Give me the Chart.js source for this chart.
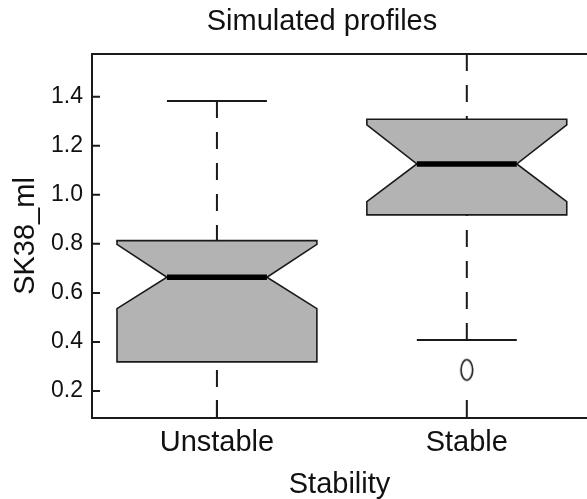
<!DOCTYPE html>
<html>
<head>
<meta charset="utf-8">
<script src="https://cdn.jsdelivr.net/npm/chart.js@4.4.0/dist/chart.umd.min.js"></script>
<style>
  html, body { margin: 0; padding: 0; background: #fff; }
</style>
</head>
<body>
<canvas id="chart" width="587" height="499"></canvas>
<script>
// Data
var categories = ['Unstable', 'Stable'];
var whisker_low = [0.09, 0.408];
var q1 = [0.319, 0.918];
var notch_low = [0.536, 0.972];
var medians = [0.664, 1.126];
var notch_high = [0.798, 1.285];
var q3 = [0.813, 1.308];
var whisker_high = [1.382, 1.574];
var outliers = [[], [0.286]];
var y_ticks = [0.2, 0.4, 0.6, 0.8, 1.0, 1.2, 1.4];
var y_min = 0.09;
var y_max = 1.574;

var line_color = '#1a1a1a';
var box_fill = '#b3b3b3';

Chart.defaults.font.family = '"Liberation Sans", Arial, sans-serif';
Chart.defaults.color = '#111';

// open ellipse used for the outlier points
function make_ellipse(){
    var c = document.createElement('canvas');
    c.width = 16;
    c.height = 25;
    var g = c.getContext('2d');
    g.strokeStyle = '#111';
    g.lineWidth = 1.6;
    g.beginPath();
    g.ellipse(8, 12.5, 5.8, 10.2, 0, 0, Math.PI * 2);
    g.stroke();
    return c;
}

var outlier_points = [];
for (let i = 0; i < outliers.length; i++){
    for (let j = 0; j < outliers[i].length; j++){
        outlier_points.push({x: i + 1, y: outliers[i][j]});
    }
}

var boxplot_plugin = {
    id: 'boxplot',
    beforeDatasetsDraw: function(chart){
        var ctx = chart.ctx;
        var xs = chart.scales.x;
        var ys = chart.scales.y;
        var area = chart.chartArea;
        var hw = 0.4;   // half box width
        var nw = 0.2;   // half notch width / cap width

        ctx.save();
        ctx.beginPath();
        ctx.rect(area.left, area.top - 1, area.right - area.left, area.bottom - area.top + 2);
        ctx.clip();

        for (let i = 0; i < categories.length; i++){
            let x = i + 1;
            let px = function(v){ return xs.getPixelForValue(v); };
            let py = function(v){ return ys.getPixelForValue(v); };

            // notched box
            ctx.beginPath();
            ctx.moveTo(px(x - hw), py(q1[i]));
            ctx.lineTo(px(x - hw), py(notch_low[i]));
            ctx.lineTo(px(x - nw), py(medians[i]));
            ctx.lineTo(px(x - hw), py(notch_high[i]));
            ctx.lineTo(px(x - hw), py(q3[i]));
            ctx.lineTo(px(x + hw), py(q3[i]));
            ctx.lineTo(px(x + hw), py(notch_high[i]));
            ctx.lineTo(px(x + nw), py(medians[i]));
            ctx.lineTo(px(x + hw), py(notch_low[i]));
            ctx.lineTo(px(x + hw), py(q1[i]));
            ctx.closePath();
            ctx.fillStyle = box_fill;
            ctx.fill();
            ctx.lineWidth = 1.6;
            ctx.strokeStyle = line_color;
            ctx.lineJoin = 'miter';
            ctx.stroke();

            // median
            ctx.beginPath();
            ctx.moveTo(px(x - nw), py(medians[i]));
            ctx.lineTo(px(x + nw), py(medians[i]));
            ctx.lineWidth = 5.5;
            ctx.strokeStyle = '#000';
            ctx.stroke();

            // whiskers, drawn from the ends toward the box
            ctx.lineWidth = 2;
            ctx.strokeStyle = line_color;
            ctx.setLineDash([17, 14]);
            ctx.beginPath();
            ctx.moveTo(px(x), py(whisker_low[i]));
            ctx.lineTo(px(x), py(q1[i]));
            ctx.moveTo(px(x), py(whisker_high[i]));
            ctx.lineTo(px(x), py(q3[i]));
            ctx.stroke();
            ctx.setLineDash([]);

            // caps
            ctx.beginPath();
            ctx.moveTo(px(x - nw), py(whisker_low[i]));
            ctx.lineTo(px(x + nw), py(whisker_low[i]));
            ctx.moveTo(px(x - nw), py(whisker_high[i]));
            ctx.lineTo(px(x + nw), py(whisker_high[i]));
            ctx.stroke();
        }
        ctx.restore();
    },
    afterDraw: function(chart){
        var ctx = chart.ctx;
        var area = chart.chartArea;
        var xs = chart.scales.x;
        var ys = chart.scales.y;

        ctx.save();
        ctx.strokeStyle = line_color;
        ctx.lineWidth = 2;

        // frame (right side falls outside the picture)
        ctx.beginPath();
        ctx.moveTo(area.right + 2, area.top);
        ctx.lineTo(area.left, area.top);
        ctx.lineTo(area.left, area.bottom);
        ctx.lineTo(area.right + 2, area.bottom);
        ctx.stroke();

        // inward ticks
        ctx.beginPath();
        for (let i = 0; i < y_ticks.length; i++){
            let y = ys.getPixelForValue(y_ticks[i]);
            ctx.moveTo(area.left, y);
            ctx.lineTo(area.left + 8, y);
        }
        for (let i = 0; i < categories.length; i++){
            let x = xs.getPixelForValue(i + 1);
            ctx.moveTo(x, area.bottom);
            ctx.lineTo(x, area.bottom - 18);
        }
        ctx.stroke();

        // main title
        ctx.fillStyle = '#111';
        ctx.font = '29px "Liberation Sans", Arial, sans-serif';
        ctx.textAlign = 'center';
        ctx.textBaseline = 'middle';
        ctx.fillText('Simulated profiles', 322, 22);
        ctx.restore();
    }
};

var ctx = document.getElementById('chart').getContext('2d');

var chart = new Chart(ctx, {
    type: 'scatter',
    data: {
        datasets: [{
            label: 'outliers',
            data: outlier_points,
            pointStyle: make_ellipse(),
            pointRadius: 10
        }]
    },
    options: {
        responsive: false,
        animation: false,
        layout: { autoPadding: false, padding: { top: 54, left: 0, right: 0, bottom: 0 } },
        plugins: {
            legend: { display: false },
            tooltip: { enabled: false },
            title: { display: false }
        },
        scales: {
            x: {
                type: 'linear',
                min: 0.5,
                max: 2.481,
                grid: { display: false, drawTicks: false },
                border: { display: false },
                afterBuildTicks: function(scale){
                    scale.ticks = categories.map(function(c, i){ return {value: i + 1}; });
                },
                afterFit: function(scale){ scale.height = 81; },
                ticks: {
                    font: { size: 29, lineHeight: 1 },
                    padding: 10,
                    maxRotation: 0,
                    autoSkip: false,
                    callback: function(v){ return categories[v - 1]; }
                },
                title: {
                    display: true,
                    text: 'Stability',
                    font: { size: 29, lineHeight: 1 },
                    padding: { top: 0, bottom: 0 }
                }
            },
            y: {
                type: 'linear',
                min: y_min,
                max: y_max,
                grid: { display: false, drawTicks: false },
                border: { display: false },
                afterBuildTicks: function(scale){
                    scale.ticks = y_ticks.map(function(v){ return {value: v}; });
                },
                afterFit: function(scale){ scale.width = 92; },
                ticks: {
                    font: { size: 23 },
                    padding: 9,
                    callback: function(v){ return v.toFixed(1); }
                },
                title: {
                    display: true,
                    text: 'SK38_ml',
                    font: { size: 29, lineHeight: 1 },
                    padding: { top: 11.5, bottom: 0 }
                }
            }
        }
    },
    plugins: [boxplot_plugin]
});
</script>
</body>
</html>
